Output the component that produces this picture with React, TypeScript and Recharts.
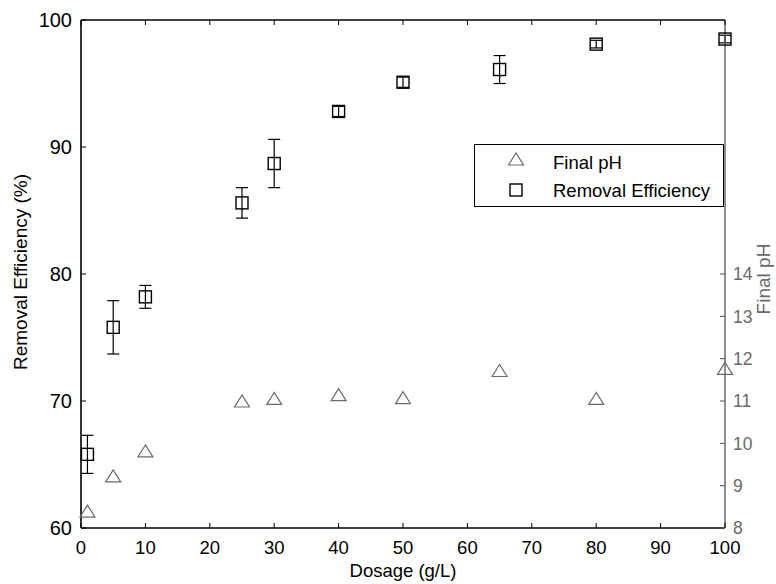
import React from 'react';
import { ComposedChart, Scatter, XAxis, YAxis, ErrorBar, Legend, Label, ReferenceLine } from 'recharts';

const dosage = [1, 5, 10, 25, 30, 40, 50, 65, 80, 100];
const removal = [65.8, 75.8, 78.2, 85.6, 88.7, 92.8, 95.1, 96.1, 98.1, 98.5];
const removalErr = [1.5, 2.1, 0.9, 1.2, 1.9, 0.4, 0.4, 1.1, 0.3, 0.3];
const finalPH = [8.4, 9.23, 9.82, 11.0, 11.06, 11.15, 11.08, 11.72, 11.06, 11.77];
const xTicks = [0, 10, 20, 30, 40, 50, 60, 70, 80, 90, 100];
const leftTicks = [60, 70, 80, 90, 100];
const rightTicks = [8, 9, 10, 11, 12, 13, 14];
const seriesNames = ['Final pH', 'Removal Efficiency'];

const data = dosage.map((d, i) => ({ dosage: d, removal: removal[i], err: removalErr[i], ph: finalPH[i] }));

const FONT = 'Liberation Sans, Arial, Helvetica, sans-serif';
const PH_COLOR = '#6a6a6a';
const RIGHT_AXIS = '#505050';

const LEFT_MARGIN = 9;
const BOTTOM_MARGIN = 13;
const RIGHT_MARGIN = 8;
const TICK_LEN = 5;

const LeftTick = (props: any) => {
  const { x, y, payload } = props;
  const ax = x + LEFT_MARGIN;
  return (
    <g>
      <line x1={ax} x2={ax + TICK_LEN} y1={y} y2={y} stroke="#000" strokeWidth={1} />
      <text x={x} y={y} dy="0.36em" textAnchor="end" fontSize={20} fontFamily={FONT} fill="#000">{payload.value}</text>
    </g>
  );
};

const BottomTick = (props: any) => {
  const { x, y, payload } = props;
  const ay = y - BOTTOM_MARGIN;
  return (
    <g>
      <line x1={x} x2={x} y1={ay} y2={ay - TICK_LEN} stroke="#000" strokeWidth={1} />
      <text x={x} y={y} dy="0.72em" textAnchor="middle" fontSize={18.5} fontFamily={FONT} fill="#000">{payload.value}</text>
    </g>
  );
};

const TopTick = (props: any) => {
  const { x, y } = props;
  return <line x1={x} x2={x} y1={y} y2={y + TICK_LEN} stroke="#000" strokeWidth={1} />;
};

const RightTick = (props: any) => {
  const { x, y, payload } = props;
  const ax = x - RIGHT_MARGIN;
  return (
    <g>
      <line x1={ax} x2={ax - TICK_LEN} y1={y} y2={y} stroke={RIGHT_AXIS} strokeWidth={1} />
      <text x={x} y={y} dy="0.36em" textAnchor="start" fontSize={17.5} fontFamily={FONT} fill={PH_COLOR}>{payload.value}</text>
    </g>
  );
};

const Square = (props: any) => {
  const { cx, cy } = props;
  if (cx == null || cy == null) return null;
  return <rect x={cx - 6} y={cy - 6} width={12} height={12} fill="none" stroke="#000" strokeWidth={1.4} />;
};

const Triangle = (props: any) => {
  const { cx, cy } = props;
  if (cx == null || cy == null) return null;
  return (
    <polygon
      points={`${cx},${cy - 6} ${cx - 7.5},${cy + 6} ${cx + 7.5},${cy + 6}`}
      fill="none"
      stroke={PH_COLOR}
      strokeWidth={1.2}
    />
  );
};

const LegendBox = () => (
  <svg width={250} height={64} style={{ display: 'block' }}>
    <rect x={0.5} y={0.5} width={249} height={62} fill="#fff" stroke="#000" strokeWidth={1} />
    <Triangle cx={42} cy={15} />
    <text x={79} y={25} fontSize={18.5} fontFamily={FONT} fill="#000">{seriesNames[0]}</text>
    <Square cx={42} cy={46} />
    <text x={79} y={53} fontSize={18.5} fontFamily={FONT} fill="#000">{seriesNames[1]}</text>
  </svg>
);

const LeftLabel = (props: any) => {
  const vb = props.viewBox;
  const x0 = vb.x + 27;
  const y0 = vb.y + vb.height / 2 - 2;
  return (
    <text x={x0} y={y0} transform={`rotate(-90, ${x0}, ${y0})`} textAnchor="middle" fontSize={19} fontFamily={FONT} fill="#000">
      Removal Efficiency (%)
    </text>
  );
};

const RightLabel = (props: any) => {
  const vb = props.viewBox;
  const x0 = vb.x + 45;
  const y0 = vb.y + 259;
  return (
    <text x={x0} y={y0} transform={`rotate(-90, ${x0}, ${y0})`} textAnchor="middle" fontSize={19} fontFamily={FONT} fill={PH_COLOR}>
      Final pH
    </text>
  );
};

const BottomLabel = (props: any) => {
  const vb = props.viewBox;
  return (
    <text x={vb.x + vb.width / 2} y={vb.y + 49} textAnchor="middle" fontSize={18.5} fontFamily={FONT} fill="#000">
      Dosage (g/L)
    </text>
  );
};

export default function App() {
  return (
    <div style={{ position: 'absolute', left: 0, top: 0, width: 776, height: 584, background: '#fff' }}>
      <ComposedChart width={776} height={584} data={data} margin={{ top: 19, right: 0, bottom: 0, left: 0 }}>
        <XAxis
          dataKey="dosage"
          type="number"
          domain={[0, 100]}
          ticks={xTicks}
          height={56}
          tickSize={0}
          tickMargin={BOTTOM_MARGIN}
          tickLine={false}
          axisLine={{ stroke: '#000', strokeWidth: 1.5 }}
          tick={<BottomTick />}
          interval={0}
        >
          <Label content={<BottomLabel />} />
        </XAxis>
        <XAxis
          xAxisId="top"
          orientation="top"
          dataKey="dosage"
          type="number"
          domain={[0, 100]}
          ticks={xTicks}
          height={1}
          tickSize={0}
          tickMargin={0}
          tickLine={false}
          axisLine={{ stroke: '#000', strokeWidth: 1 }}
          tick={<TopTick />}
          interval={0}
        />
        <YAxis
          yAxisId="left"
          type="number"
          domain={[60, 100]}
          ticks={leftTicks}
          width={81}
          tickSize={0}
          tickMargin={LEFT_MARGIN}
          tickLine={false}
          axisLine={{ stroke: '#000', strokeWidth: 1.6 }}
          tick={<LeftTick />}
          interval={0}
        >
          <Label content={<LeftLabel />} />
        </YAxis>
        <YAxis
          yAxisId="right"
          orientation="right"
          type="number"
          domain={[8, 20]}
          ticks={rightTicks}
          width={51}
          tickSize={0}
          tickMargin={RIGHT_MARGIN}
          tickLine={false}
          axisLine={{ stroke: RIGHT_AXIS, strokeWidth: 1.3 }}
          tick={<RightTick />}
          interval={0}
        >
          <Label content={<RightLabel />} />
        </YAxis>
        <ReferenceLine yAxisId="left" y={100} stroke="#000" strokeWidth={1} />
        <Scatter name={seriesNames[0]} xAxisId="top" yAxisId="right" dataKey="ph" shape={<Triangle />} isAnimationActive={false} />
        <Scatter name={seriesNames[1]} yAxisId="left" dataKey="removal" shape={<Square />} isAnimationActive={false}>
          <ErrorBar dataKey="err" direction="y" width={6} stroke="#000" strokeWidth={1.2} isAnimationActive={false} />
        </Scatter>
        <Legend
          layout="horizontal"
          verticalAlign="middle"
          align="center"
          content={<LegendBox />}
          wrapperStyle={{ left: 474, top: 144, width: 250, height: 64 }}
        />
      </ComposedChart>
    </div>
  );
}
